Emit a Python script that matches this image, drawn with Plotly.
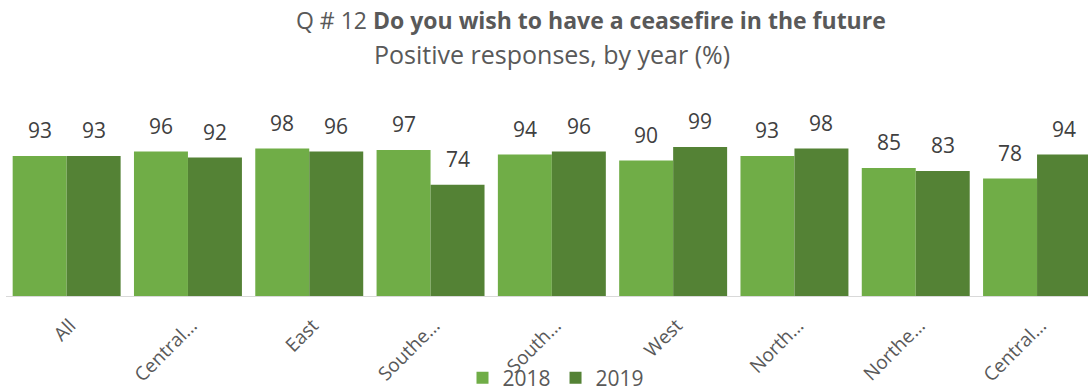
import plotly.graph_objects as go

categories = ["All", "Central…", "East", "Southe…", "South…", "West", "North…", "Northe…", "Central…"]
cat_ids = list(range(len(categories)))
years = ["2018", "2019"]
values_2018 = [93, 96, 98, 97, 94, 90, 93, 85, 78]
values_2019 = [93, 92, 96, 74, 96, 99, 98, 83, 94]
colors = ["#70AD47", "#548235"]

FONT = "Open Sans"
L, T, B, W, H = 6, 130, 95, 1088, 391
PH = H - T - B
PW = W - L

fig = go.Figure()
for name, vals, col in zip(years, [values_2018, values_2019], colors):
    fig.add_trace(go.Bar(x=cat_ids, y=vals, name=name, marker=dict(color=col, line=dict(width=0)),
                         hoverinfo="skip"))

bargap = 0.11
half = (1 - bargap) / 4
for k, vals in enumerate([values_2018, values_2019]):
    off = -half if k == 0 else half
    for i, v in enumerate(vals):
        fig.add_annotation(x=i + off, y=v, xref="x", yref="y", text=str(v), showarrow=False,
                           yanchor="bottom", yshift=10, font=dict(family=FONT, size=21, color="#404040"))

fig.add_annotation(xref="paper", yref="paper", x=(591 - L) / PW, y=1 + (T - 20) / PH,
                   xanchor="center", yanchor="middle", showarrow=False,
                   text="Q # 12 <b>Do you wish to have a ceasefire in the future</b>",
                   font=dict(family=FONT, size=23, color="#595959"))
fig.add_annotation(xref="paper", yref="paper", x=(552 - L) / PW, y=1 + (T - 54) / PH,
                   xanchor="center", yanchor="middle", showarrow=False,
                   text="Positive responses, by year (%)",
                   font=dict(family=FONT, size=25, color="#595959"))

fig.update_layout(
    width=W, height=H,
    margin=dict(l=L, r=0, t=T, b=B, autoexpand=False),
    barmode="group", bargap=bargap, bargroupgap=0,
    plot_bgcolor="white", paper_bgcolor="white",
    showlegend=True,
    legend=dict(orientation="h", x=(556 - L) / PW, xanchor="center", y=-(378 - (T + PH)) / PH,
                yanchor="middle", itemwidth=30, bgcolor="rgba(0,0,0,0)",
                font=dict(family=FONT, size=21, color="#595959"), itemclick=False),
    xaxis=dict(tickmode="array", tickvals=[i + 0.03 for i in cat_ids], ticktext=categories, tickangle=-45,
               range=[-0.5, -0.5 + PW / 121.3], showline=True, linecolor="#D9D9D9", linewidth=1,
               ticks="", automargin=False, ticklabelstandoff=10,
               tickfont=dict(family=FONT, size=19, color="#595959")),
    yaxis=dict(range=[0, 110.3], visible=False, showgrid=False, automargin=False),
    font=dict(family=FONT),
)
fig.write_html("out.html", config={"displayModeBar": False},
               post_script="document.body.style.margin='0';document.body.style.overflow='hidden';")
